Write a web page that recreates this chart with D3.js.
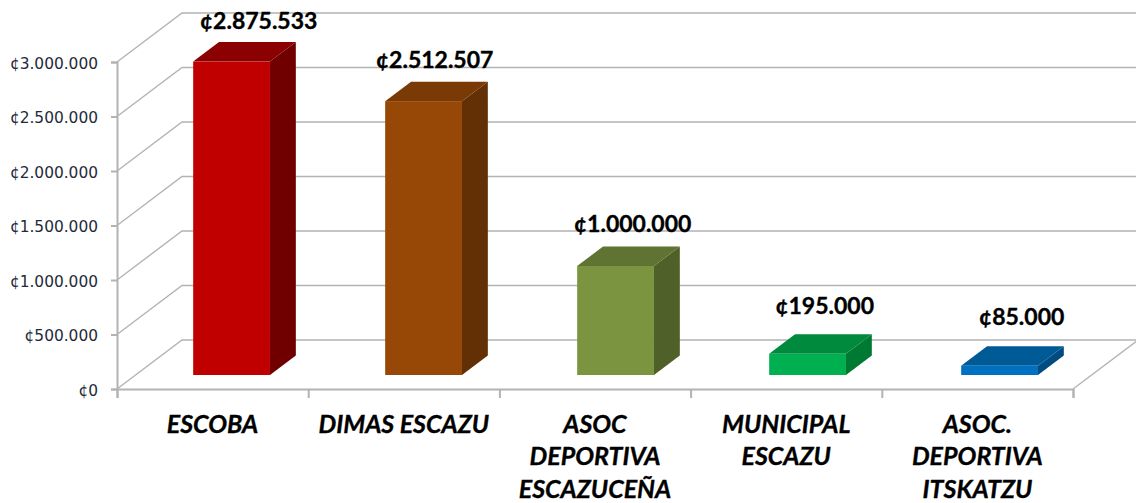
<!DOCTYPE html>
<html>
<head>
<meta charset="utf-8">
<script src="https://cdn.jsdelivr.net/npm/d3@7"></script>
<style>
    body { margin: 0; background: #fff; }
    svg { display: block; }
    .yaxis text { font-family: "DejaVu Sans"; font-size: 15.4px; fill: #1f2a3a; transform: translateY(1.5px); }
    .cat { font-family: Lato; font-weight: 700; font-style: italic; font-size: 25px; fill: #000; stroke: #000; stroke-width: 0.35px; }
    .val { font-family: Lato; font-weight: 700; font-size: 23px; fill: #000; stroke: #000; stroke-width: 0.35px; }
</style>
</head>
<body>
<div id="chart"></div>
<script>
const categories = [
    ['ESCOBA'],
    ['DIMAS ESCAZU'],
    ['ASOC', 'DEPORTIVA', 'ESCAZUCEÑA'],
    ['MUNICIPAL', 'ESCAZU'],
    ['ASOC.', 'DEPORTIVA', 'ITSKATZU']
];
const values = [2875533, 2512507, 1000000, 195000, 85000];
const yTicks = [0, 500000, 1000000, 1500000, 2000000, 2500000, 3000000];

const frontColors = ['#c00000', '#974706', '#7a943f', '#00b050', '#0070c0'];
const topColors = ['#8b0000', '#7a3a06', '#5f7432', '#008a3e', '#005a96'];
const sideColors = ['#700000', '#632f04', '#4f6128', '#007a33', '#004c80'];

// hand placed like the original, labels don't sit on the bar centre
const labelNudge = [[27, -21], [11, -21], [17, -22], [17, -28], [22, -29]];

const width = 1136, height = 503;
const depthX = 65, depthY = -49;
const barFront = 14 / 49, barBack = 33.5 / 49;
const gridColor = '#b3b3b3';

const x = d3.scaleBand().domain(d3.range(categories.length)).range([117, 1073]);
// bars run on a slightly wider step than the axis ticks in the original
const barX = d3.scaleBand().domain(d3.range(categories.length)).range([117, 1077]);
const y = d3.scaleLinear().domain([0, 3000000]).range([389, 62]);
const barWidth = barX.bandwidth() * 0.4;

const fmt = d3.formatLocale({ decimal: ',', thousands: '.', grouping: [3], currency: ['¢', ''] }).format('$,d');

const svg = d3.select('#chart').append('svg')
    .attr('width', width)
    .attr('height', height);

// left wall and back wall gridlines
svg.append('g')
    .selectAll('path')
    .data(yTicks)
    .join('path')
    .attr('fill', 'none')
    .attr('stroke', gridColor)
    .attr('stroke-width', 1.4)
    .attr('d', d => `M${x.range()[0]},${y(d)}l${depthX},${depthY}L${x.range()[1] + depthX},${y(d) + depthY}`);

// floor right edge
svg.append('line')
    .attr('x1', x.range()[1]).attr('y1', y(0))
    .attr('x2', x.range()[1] + depthX).attr('y2', y(0) + depthY)
    .attr('stroke', gridColor)
    .attr('stroke-width', 1.4);

const yAxis = svg.append('g')
    .attr('class', 'yaxis')
    .attr('transform', `translate(${x.range()[0]},0)`)
    .call(d3.axisLeft(y).tickValues(yTicks).tickFormat(fmt).tickSize(6).tickPadding(13));
yAxis.selectAll('path, line').attr('stroke', gridColor).attr('stroke-width', 2);

const edges = d3.scaleLinear().domain([0, categories.length]).range(x.range());
const xAxis = svg.append('g')
    .attr('transform', `translate(0,${y(0)})`)
    .call(d3.axisBottom(edges).ticks(categories.length).tickFormat('').tickSize(9));
xAxis.selectAll('path, line').attr('stroke', gridColor).attr('stroke-width', 2);

const bars = svg.append('g')
    .selectAll('g')
    .data(values)
    .join('g');

function barCorners(d, i) {
    const left = barX(i) + (barX.bandwidth() - barWidth) / 2 + depthX * barFront;
    const right = left + barWidth;
    const bottom = y(0) + depthY * barFront;
    const top = bottom - (y(0) - y(d));
    const dx = depthX * (barBack - barFront), dy = depthY * (barBack - barFront);
    return { left, right, bottom, top, dx, dy };
}

bars.append('path')
    .attr('fill', (d, i) => sideColors[i])
    .attr('d', (d, i) => {
        const c = barCorners(d, i);
        return `M${c.right},${c.top}l${c.dx},${c.dy}L${c.right + c.dx},${c.bottom + c.dy}L${c.right},${c.bottom}Z`;
    });

bars.append('path')
    .attr('fill', (d, i) => topColors[i])
    .attr('d', (d, i) => {
        const c = barCorners(d, i);
        return `M${c.left},${c.top}l${c.dx},${c.dy}L${c.right + c.dx},${c.top + c.dy}L${c.right},${c.top}Z`;
    });

bars.append('rect')
    .attr('fill', (d, i) => frontColors[i])
    .attr('x', (d, i) => barCorners(d, i).left)
    .attr('y', (d, i) => barCorners(d, i).top)
    .attr('width', barWidth)
    .attr('height', d => y(0) - y(d));

bars.append('text')
    .attr('class', 'val')
    .attr('text-anchor', 'middle')
    .attr('x', (d, i) => barCorners(d, i).left + barWidth / 2 + labelNudge[i][0])
    .attr('y', (d, i) => barCorners(d, i).top + depthY * 20 / 49 + labelNudge[i][1] + 8)
    .text(d => fmt(d));

const labels = svg.append('g')
    .selectAll('text')
    .data(categories)
    .join('text')
    .attr('class', 'cat')
    .attr('text-anchor', 'middle');

labels.selectAll('tspan')
    .data((d, i) => d.map(line => ({ line, i })))
    .join('tspan')
    .attr('x', d => x(d.i) + x.bandwidth() / 2)
    .attr('y', (d, j) => 432.5 + j * 32.5)
    .text(d => d.line);
</script>
</body>
</html>
